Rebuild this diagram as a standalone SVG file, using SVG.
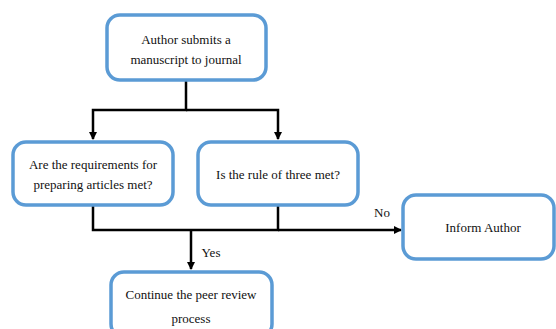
<svg xmlns="http://www.w3.org/2000/svg" width="556" height="329" viewBox="0 0 556 329">
<defs>
<marker id="arr" markerWidth="8" markerHeight="8" refX="7" refY="4" orient="auto" markerUnits="userSpaceOnUse">
<path d="M0,0 L8,4 L0,8 Z" fill="#000"/>
</marker>
<style>
.box{fill:#fff;stroke:#5B9BD5;stroke-width:3.5}
.t{font-family:'Liberation Serif','Times New Roman','DejaVu Serif',serif;font-size:13px;fill:#111;text-anchor:middle}
.c{fill:none;stroke:#000;stroke-width:2.5}
</style>
</defs>
<rect width="556" height="329" fill="#fff"/>
<g id="connectors">
<path class="c" d="M186,80 V110 H93 V139" marker-end="url(#arr)"/>
<path class="c" d="M186,110 H278 V139" marker-end="url(#arr)"/>
<path class="c" d="M93,205 V230 H278 V205"/>
<path class="c" d="M278,230 H401" marker-end="url(#arr)"/>
<path class="c" d="M191,230 V269" marker-end="url(#arr)"/>
<text class="t" x="382" y="217" font-family="Liberation Serif, serif">No</text>
<text class="t" x="211" y="257" font-family="Liberation Serif, serif">Yes</text>
</g>
<g id="n1">
<rect class="box" x="107" y="15" width="159" height="65" rx="13"/>
<text class="t" x="186" y="44" font-family="Liberation Serif, serif">Author submits a</text>
<text class="t" x="186" y="64" font-family="Liberation Serif, serif">manuscript to journal</text>
</g>
<g id="n2">
<rect class="box" x="13" y="142" width="160" height="63" rx="13"/>
<text class="t" x="93" y="169" font-family="Liberation Serif, serif">Are the requirements for</text>
<text class="t" x="93" y="189" font-family="Liberation Serif, serif">preparing articles met?</text>
</g>
<g id="n3">
<rect class="box" x="198" y="142" width="160" height="63" rx="13"/>
<text class="t" x="278" y="179" font-family="Liberation Serif, serif">Is the rule of three met?</text>
</g>
<g id="n4">
<rect class="box" x="403" y="195" width="151" height="64" rx="13"/>
<text class="t" x="483" y="232" font-family="Liberation Serif, serif">Inform Author</text>
</g>
<g id="n5">
<rect class="box" x="111" y="272" width="161" height="65" rx="13"/>
<text class="t" x="191" y="299" font-family="Liberation Serif, serif">Continue the peer review</text>
<text class="t" x="191" y="323" font-family="Liberation Serif, serif">process</text>
</g>
</svg>
